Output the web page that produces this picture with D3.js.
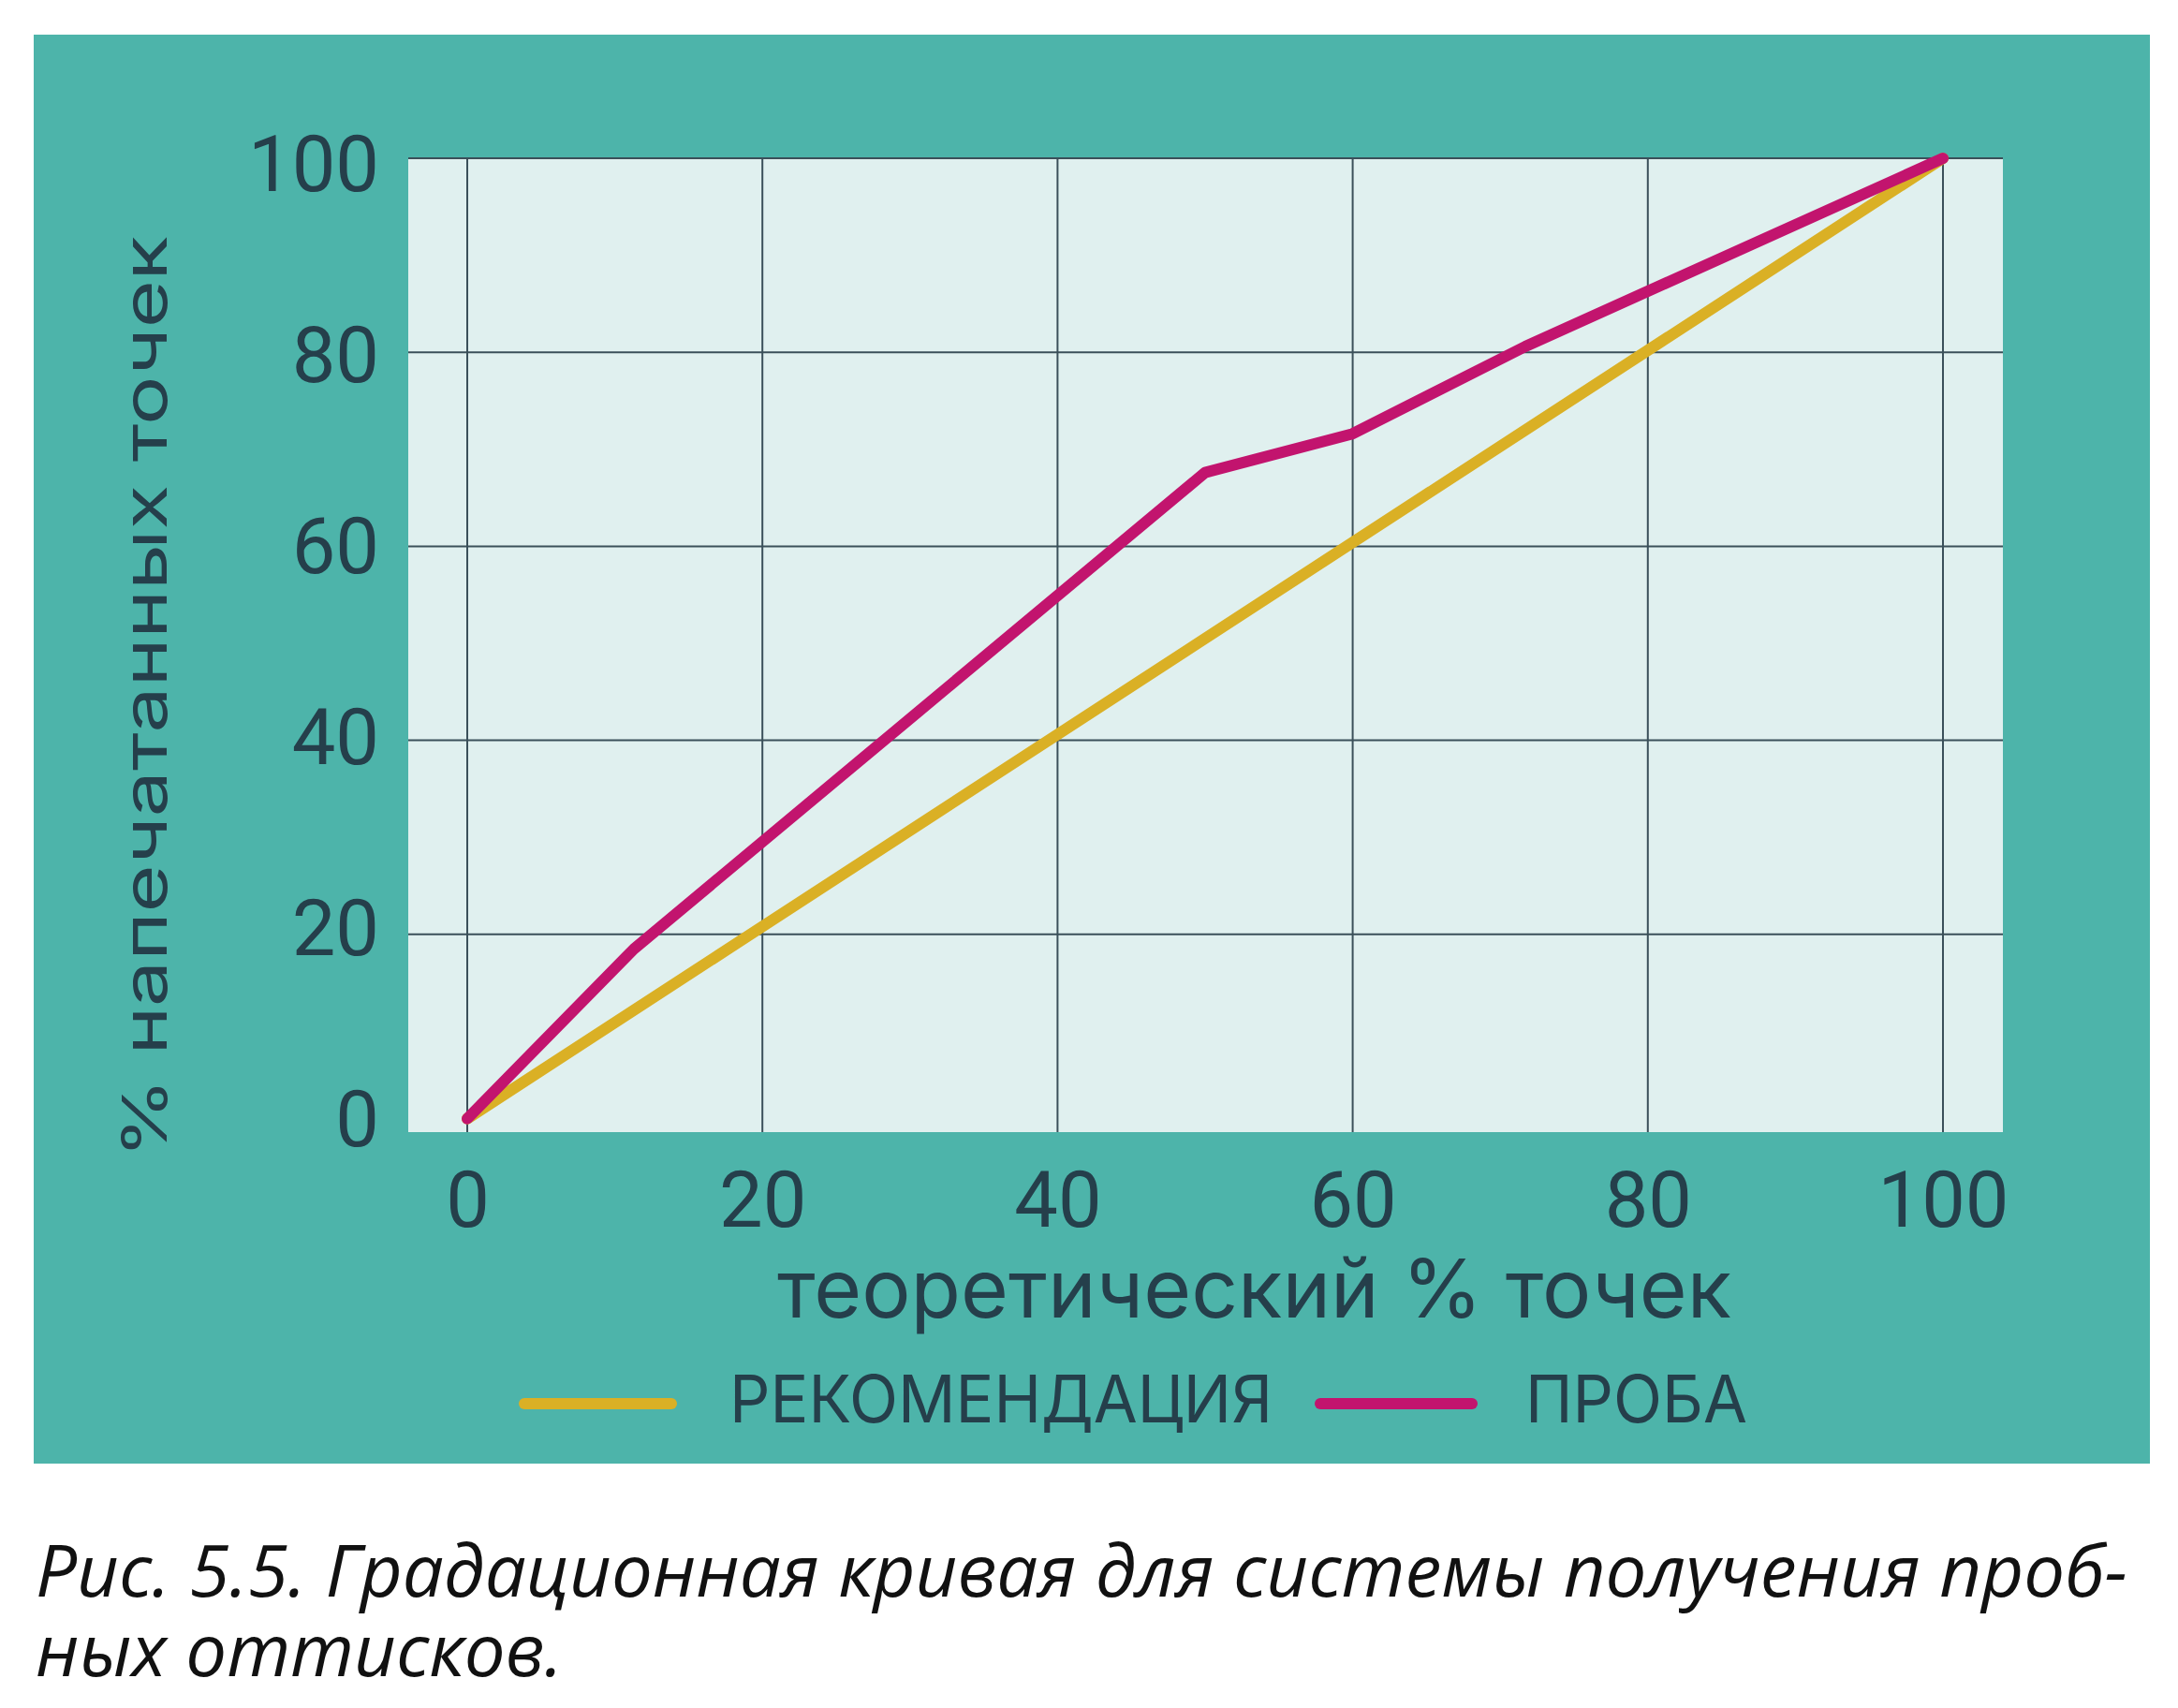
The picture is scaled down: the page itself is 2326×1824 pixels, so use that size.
<!DOCTYPE html>
<html>
<head>
<meta charset="utf-8">
<script src="https://cdn.jsdelivr.net/npm/d3@7"></script>
<style>
  html, body { margin: 0; padding: 0; background: #ffffff; }
  svg { display: block; }
</style>
</head>
<body>
<svg id="chart" width="2326" height="1824"></svg>
<script>
// ---- data ----
const xTicks = [0, 20, 40, 60, 80, 100];
const yTicks = [0, 20, 40, 60, 80, 100];
const recommendX = [0, 100];
const recommendY = [1, 100];
const probaX = [0, 11.3, 50, 60, 71.7, 100];
const probaY = [1, 18.5, 67.6, 71.6, 80.6, 100];
const seriesNames = ["РЕКОМЕНДАЦИЯ", "ПРОБА"];
const xTitle = "теоретический % точек";
const yTitle = "% напечатанных точек";
const captionLines = ["Рис. 5.5. Градационная кривая для системы получения проб-", "ных оттисков."];

// ---- layout ----
const W = 2326, H = 1824;
const panel = {x: 36, y: 37, w: 2260, h: 1526};
const plot = {left: 436, right: 2139, top: 168, bottom: 1209};
const colors = {teal: "#4db4aa", plotBg: "#e0f0ef", text: "#253f4b", grid: "#3b505a",
  yellow: "#dab025", magenta: "#c2146e"};

const svg = d3.select("#chart");
svg.append("rect").attr("width", W).attr("height", H).attr("fill", "#ffffff");
svg.append("rect").attr("x", panel.x).attr("y", panel.y).attr("width", panel.w).attr("height", panel.h)
  .attr("fill", colors.teal);
svg.append("rect").attr("x", plot.left).attr("y", plot.top)
  .attr("width", plot.right - plot.left).attr("height", plot.bottom - plot.top)
  .attr("fill", colors.plotBg);

const x = d3.scaleLinear().domain([0, 100]).range([499, 2075]);
const y = d3.scaleLinear().domain([0, 100]).range([1205, 169]);
// baseline positions of the y tick labels (slightly offset from the grid in the original)
const yLabel = d3.scaleLinear().domain([0, 100]).range([1223, 203]);

// grid
const g = svg.append("g");
g.selectAll("line.v").data(xTicks).join("line")
  .attr("x1", d => x(d)).attr("x2", d => x(d))
  .attr("y1", plot.top).attr("y2", plot.bottom)
  .attr("stroke", colors.grid).attr("stroke-width", 2);
g.selectAll("line.h").data(yTicks.filter(d => d > 0)).join("line")
  .attr("x1", plot.left).attr("x2", plot.right)
  .attr("y1", d => y(d)).attr("y2", d => y(d))
  .attr("stroke", colors.grid).attr("stroke-width", 2);

// axes (labels only)
const tickFont = "Roboto, 'Noto Sans', sans-serif";
const xAxis = svg.append("g").attr("transform", `translate(0,${plot.bottom})`)
  .call(d3.axisBottom(x).tickValues(xTicks).tickSize(0).tickPadding(0).tickFormat(d3.format("d")));
xAxis.select(".domain").remove();
xAxis.selectAll("text").attr("y", 101).attr("dy", 0)
  .attr("font-family", tickFont).attr("font-size", 83).attr("fill", colors.text);

const yAxis = svg.append("g").attr("transform", `translate(${plot.left},0)`)
  .call(d3.axisLeft(yLabel).tickValues(yTicks).tickSize(0).tickPadding(31).tickFormat(d3.format("d")));
yAxis.select(".domain").remove();
yAxis.selectAll("text").attr("dy", 0)
  .attr("font-family", tickFont).attr("font-size", 83).attr("fill", colors.text);

// lines
const line = d3.line().x(d => x(d[0])).y(d => y(d[1]));
svg.append("path").datum(d3.zip(recommendX, recommendY))
  .attr("d", line).attr("fill", "none").attr("stroke", colors.yellow)
  .attr("stroke-width", 12).attr("stroke-linecap", "round").attr("stroke-linejoin", "round");
svg.append("path").datum(d3.zip(probaX, probaY))
  .attr("d", line).attr("fill", "none").attr("stroke", colors.magenta)
  .attr("stroke-width", 12).attr("stroke-linecap", "round").attr("stroke-linejoin", "round");

// axis titles
const titleFont = "Inter, Lato, 'Noto Sans', sans-serif";
svg.append("text").attr("x", 830).attr("y", 1407)
  .attr("font-family", titleFont).attr("font-size", 86).attr("fill", colors.text)
  .attr("textLength", 1019).attr("lengthAdjust", "spacingAndGlyphs")
  .text(xTitle);
svg.append("text").attr("transform", "translate(178,1237) rotate(-90)")
  .attr("x", 0).attr("y", 0)
  .attr("font-family", titleFont).attr("font-size", 66).attr("fill", colors.text)
  .attr("textLength", 985).attr("lengthAdjust", "spacingAndGlyphs")
  .text(yTitle);

// legend
const legend = [
  {name: seriesNames[0], color: colors.yellow, x1: 560, x2: 717, tx: 779, tw: 580},
  {name: seriesNames[1], color: colors.magenta, x1: 1410, x2: 1572, tx: 1629, tw: 237}
];
const lg = svg.append("g");
lg.selectAll("line").data(legend).join("line")
  .attr("x1", d => d.x1).attr("x2", d => d.x2).attr("y1", 1499).attr("y2", 1499)
  .attr("stroke", d => d.color).attr("stroke-width", 12).attr("stroke-linecap", "round");
lg.selectAll("text").data(legend).join("text")
  .attr("x", d => d.tx).attr("y", 1519)
  .attr("font-family", titleFont).attr("font-size", 70).attr("fill", colors.text)
  .attr("textLength", d => d.tw).attr("lengthAdjust", "spacingAndGlyphs")
  .text(d => d.name);

// caption
const capLengths = [2234, 563];
const capY = [1705, 1790];
svg.selectAll("text.caption").data(captionLines).join("text")
  .attr("class", "caption")
  .attr("x", 38).attr("y", (d, i) => capY[i])
  .attr("font-family", "'Liberation Sans Narrow', 'Open Sans', sans-serif")
  .attr("font-style", "italic").attr("font-size", 77).attr("fill", "#111111")
  .attr("textLength", (d, i) => capLengths[i]).attr("lengthAdjust", "spacingAndGlyphs")
  .text(d => d);
</script>
</body>
</html>
